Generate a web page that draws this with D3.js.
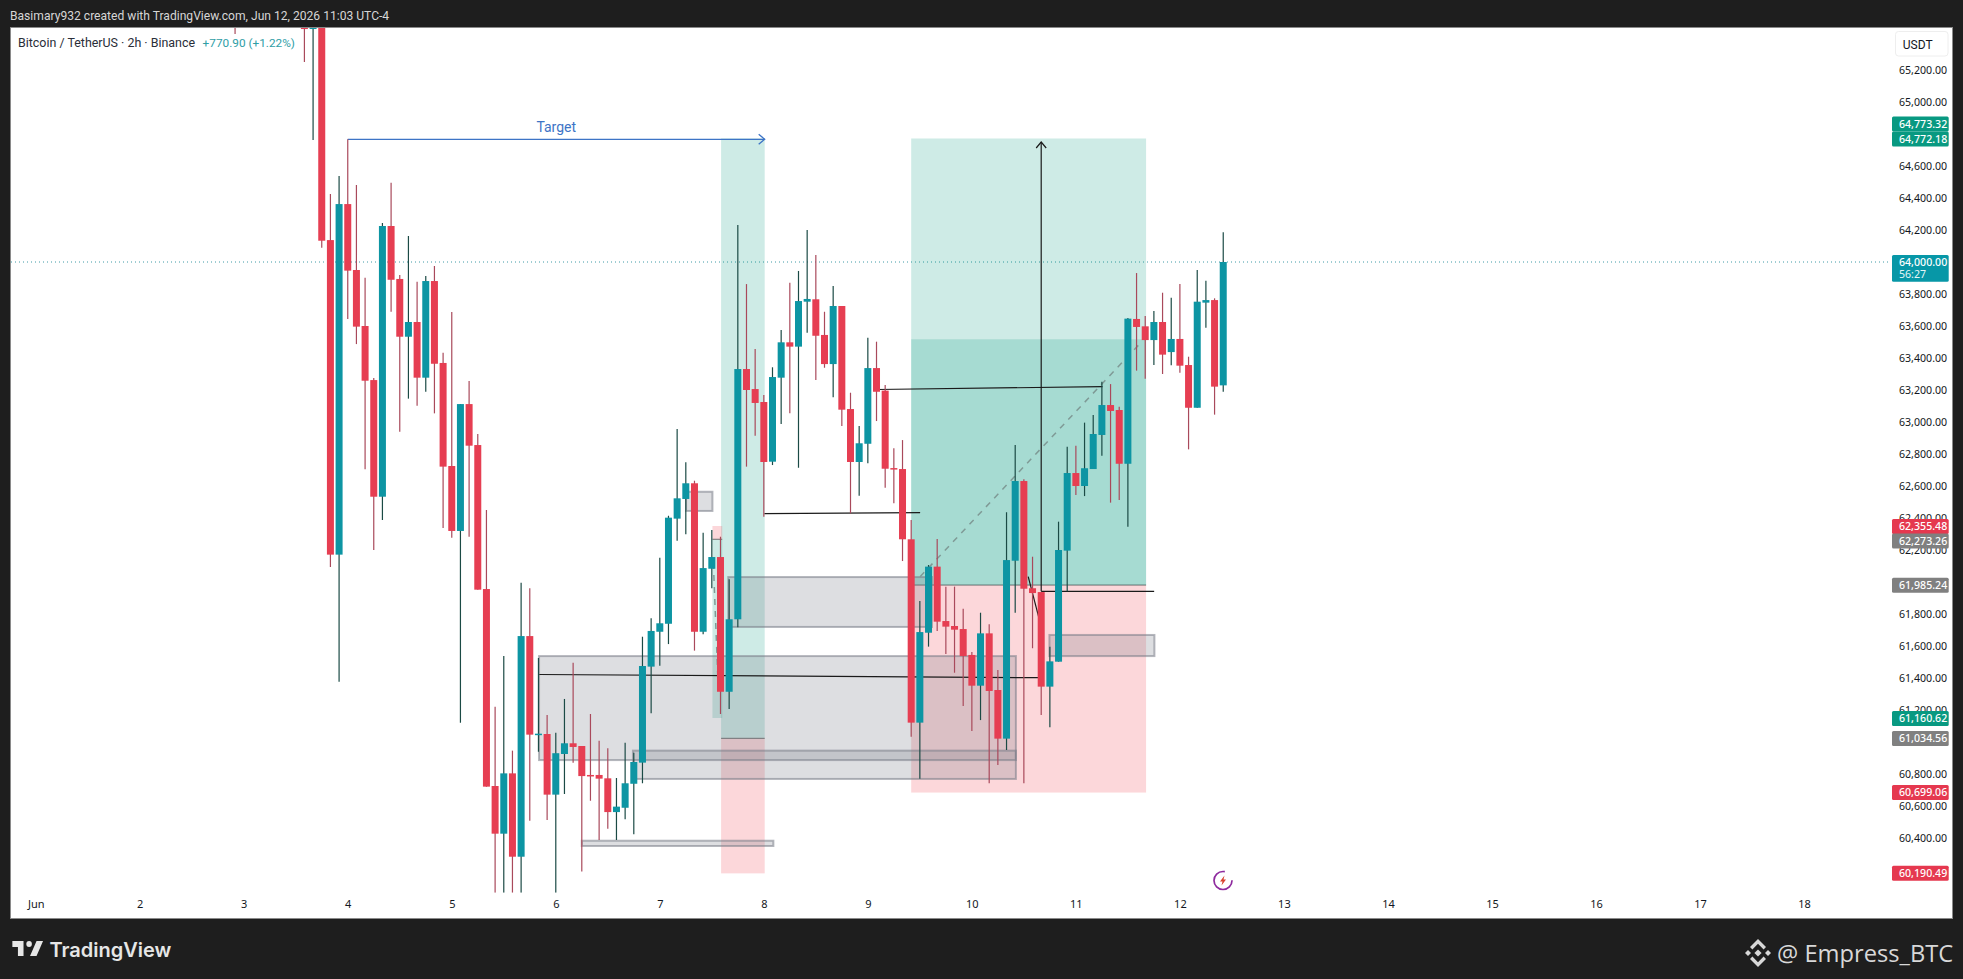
<!DOCTYPE html>
<html>
<head>
<meta charset="utf-8">
<script src="https://cdn.jsdelivr.net/npm/d3@7"></script>
<style>
	html, body { margin: 0; padding: 0; background: #1e1e1e; overflow: hidden; }
	svg { display: block; font-family: Roboto, sans-serif; }
	.px_axis text, .t_axis text { fill: #131722; }
	.px_axis .domain, .px_axis line, .t_axis .domain, .t_axis line { display: none; }
</style>
</head>
<body>
<svg id="chart" width="1963" height="979"></svg>
<script>
//2h bars, first one is bar 23 counted from Jun 1 00:00 (bars 23-33 run off the top of the pane)
const firstBar = 23;
const opens = [65950,65900,65880,65920,65860,65900,65870,65890,65700,65456,65590,
	64137,62171,64362,63950,63600,63262,62533,64225,63894,63533,63625,63277,63881,63369,62725,62319,63112,62856,61956,60725,
	60427,60804,60283,61662,61050,61050,60671,60925,60992,60975,60794,60794,60773,60562,60589,60739,60871,61471,61689,61739,
	62396,62519,62617,61689,62083,62156,61314,61767,63331,63206,63125,62752,63277,63498,63471,63752,63767,63544,63362,63725,
	63081,62750,62864,63337,63196,62712,62706,62267,61121,61683,62096,61756,61725,61706,61544,61352,61679,61325,61021,62133,
	62631,61961,61937,61346,61502,62196,62681,62600,62706,62919,63106,63075,62739,63644,63598,63512,63625,63437,63519,63356,
	63089,63746,63762,63229];
const highs = [66000,66000,65980,66000,65950,66000,65960,65980,65800,65700,65650,
	64425,64537,64767,64481,63902,63275,64244,64496,63919,64162,63877,63912,63975,63433,63687,63112,63256,62925,62450,61221,
	61537,60946,61996,61961,61525,61169,61058,61269,61496,60975,61175,61008,60961,60775,60996,60933,61658,61773,62152,62414,
	62956,62748,62633,62308,62325,62283,62017,64231,63862,63456,63169,63342,63575,63871,63944,64200,64044,63689,63850,63725,
	63183,62975,63527,63502,63231,62836,62887,62387,61881,62106,62269,61971,61971,61833,61562,61808,61736,61450,62436,62856,
	62642,62158,61937,61596,62377,62846,62852,62996,63044,63252,63237,63096,63650,63931,63662,63694,63808,63777,63862,63408,
	63950,63883,63773,64186];
const lows = [65425,65800,65780,65810,65760,65800,65770,65790,65250,64762,64089,
	62094,61377,63644,63487,62704,62200,62387,63689,62939,63146,63102,63189,63054,62337,62277,61121,62283,61952,60721,60058,
	60058,60058,60058,60508,60939,60512,60058,60675,60871,60190,60633,60387,60458,60387,60517,60423,60742,61179,61477,61612,
	62258,62298,61571,61673,61961,61175,61206,61717,62721,62914,62408,62731,62987,63054,62714,63558,63262,63339,63154,62975,
	62429,62539,62742,63006,62589,62492,62131,61033,60771,61596,61694,61550,61433,61225,61069,61137,60742,60856,60950,61808,
	60742,61586,61169,61092,61502,61942,62544,62537,62706,62789,62496,62512,62346,63321,63271,63356,63300,63354,63308,62829,
	63089,63589,63046,63189];
const closes = [65520,65850,65830,65860,65810,65850,65820,65840,65456,65600,64133,
	62171,64362,63946,63596,63258,62533,64225,63889,63533,63625,63277,63881,63364,62721,62319,63112,62852,61952,60721,60427,
	60804,60283,61662,61046,61052,60671,60930,60992,60969,60787,60787,60771,60562,60596,60742,60875,61475,61694,61742,62402,
	62523,62617,61689,62087,62156,61314,61767,63331,63200,63119,62750,63281,63498,63471,63756,63769,63539,63362,63725,63077,
	62750,62867,63337,63189,62708,62706,62267,61121,61687,62096,61752,61721,61702,61537,61352,61679,61319,61021,62137,62631,
	61958,61931,61346,61504,62200,62681,62600,62711,62925,63106,63069,62739,63646,63594,63512,63625,63421,63519,63352,63089,
	63752,63762,63221,64000];

const dayLabels = ["Jun","2","3","4","5","6","7","8","9","10","11","12","13","14","15","16","17","18"];
const priceTicks = [65200,65000,64600,64400,64200,63800,63600,63400,63200,63000,62800,62600,62400,62200,61800,61600,61400,61200,60800,60600,60400];

//drawings, bars on x and prices on y
const positionFrom = [79.07, 101, 78.07];
const positionTo = [84.1, 128.1, 79.2];
const positionTarget = [64773, 64772, 61150];
const positionEntry = [61023, 61981, 62267];
const positionStop = [60179, 60684, 62350];
const innerProfit = [101, 128.1, 63517, 61981];

const boxes = [
	[79.9, 103.4, 62031, 61719],
	[58.07, 113.08, 61537, 60887],
	[68.9, 113.08, 60946, 60769],
	[116.95, 129.06, 61669, 61537],
	[75.03, 78.07, 62564, 62444],
	[63, 85.1, 60383, 60350]
];
const blackLines = [
	[84.07, 62427, 102.03, 62433],
	[97.03, 63203, 123.07, 63221],
	[58.1, 61422, 115.68, 61402],
	[116, 61942, 129.03, 61942],
	[114.5, 62033, 115.7, 61783]
];
const dashedLines = [
	[102.03, 62033, 127.6, 63502],
	[78.18, 62119, 78.75, 61325]
];
const arrowUp = [116, 61942, 64750];
const targetArrow = [36, 84.1, 64767];

//right scale labels: text, where it sits, colour name
const labelTexts = ["64,773.32","64,772.18","62,355.48","62,273.26","61,985.24","61,160.62","61,034.56","60,699.06","60,190.49"];
const labelPrices = [64862,64769,62347,62256,61979,61147,61022,60684,60179];
const labelKinds = ["green","green","red","grey","grey","green","grey","red","red"];
const lastPrice = 64000;
const lastCountdown = "56:27";

const colors = {up: "#0d95a3", down: "#e63e52", upWick: "#1b4a45", downWick: "#a9495b",
	green: "#089981", red: "#e5384f", grey: "#808080", last: "#0797a7"};

const svg = d3.select("#chart");

// frame
svg.append("rect").attr("x", 0).attr("y", 0).attr("width", 1963).attr("height", 979).attr("fill", "#1e1e1e");
svg.append("rect")
	.attr("x", 10.5).attr("y", 27.5)
	.attr("width", 1942).attr("height", 891)
	.attr("fill", "#fff")
	.attr("stroke", "#8a8a8a");

svg.append("text")
	.attr("x", 10).attr("y", 19.5)
	.attr("font-size", 12.1)
	.attr("fill", "#d6d6d6")
	.text("Basimary932 created with TradingView.com, Jun 12, 2026 11:03 UTC-4");

const x = d3.scaleLinear().domain([0, 17 * 12]).range([35.7, 1804]);
const y = d3.scaleLinear().domain([60000, 65000]).range([902, 102]);

svg.append("defs").append("clipPath").attr("id", "pane")
	.append("rect").attr("x", 11).attr("y", 28).attr("width", 1879).attr("height", 864.7);

const pane = svg.append("g").attr("clip-path", "url(#pane)");

// last price line
pane.append("line")
	.attr("x1", 11).attr("x2", 1890)
	.attr("y1", y(lastPrice)).attr("y2", y(lastPrice))
	.attr("stroke", "#3f9aa6")
	.attr("stroke-width", 1)
	.attr("stroke-dasharray", "1 3");

// long and short position tools
positionFrom.forEach(function(from, i){
	pane.append("rect")
		.attr("x", x(from)).attr("width", x(positionTo[i]) - x(from))
		.attr("y", y(Math.max(positionTarget[i], positionEntry[i])))
		.attr("height", Math.abs(y(positionTarget[i]) - y(positionEntry[i])))
		.attr("fill", "rgba(8,153,129,0.2)");
	pane.append("rect")
		.attr("x", x(from)).attr("width", x(positionTo[i]) - x(from))
		.attr("y", y(Math.max(positionStop[i], positionEntry[i])))
		.attr("height", Math.abs(y(positionStop[i]) - y(positionEntry[i])))
		.attr("fill", "rgba(242,54,69,0.2)");
	pane.append("line")
		.attr("x1", x(from)).attr("x2", x(positionTo[i]))
		.attr("y1", y(positionEntry[i])).attr("y2", y(positionEntry[i]))
		.attr("stroke", "#6e6e6e");
});
pane.append("rect")
	.attr("x", x(innerProfit[0])).attr("width", x(innerProfit[1]) - x(innerProfit[0]))
	.attr("y", y(innerProfit[2])).attr("height", y(innerProfit[3]) - y(innerProfit[2]))
	.attr("fill", "rgba(8,153,129,0.2)");

// grey zones
pane.selectAll(".zone").data(boxes).join("rect")
	.attr("class", "zone")
	.attr("x", d => x(d[0]))
	.attr("width", d => x(d[1]) - x(d[0]))
	.attr("y", d => y(d[2]))
	.attr("height", d => y(d[3]) - y(d[2]))
	.attr("fill", "rgba(120,123,134,0.25)")
	.attr("stroke", "rgba(120,123,134,0.55)")
	.attr("stroke-width", 2);

pane.selectAll(".dash").data(dashedLines).join("line")
	.attr("class", "dash")
	.attr("x1", d => x(d[0])).attr("y1", d => y(d[1]))
	.attr("x2", d => x(d[2])).attr("y2", d => y(d[3]))
	.attr("stroke", "#7f9a96")
	.attr("stroke-width", 1.5)
	.attr("stroke-dasharray", "6 6");

pane.selectAll(".trend").data(blackLines).join("line")
	.attr("class", "trend")
	.attr("x1", d => x(d[0])).attr("y1", d => y(d[1]))
	.attr("x2", d => x(d[2])).attr("y2", d => y(d[3]))
	.attr("stroke", "#1a1a1a")
	.attr("stroke-width", 1.2);

// the tall arrow
const ax = x(arrowUp[0]), ay = y(arrowUp[2]);
pane.append("line")
	.attr("x1", ax).attr("x2", ax)
	.attr("y1", y(arrowUp[1])).attr("y2", ay)
	.attr("stroke", "#1a1a1a").attr("stroke-width", 1.2);
pane.append("path")
	.attr("d", "M" + (ax - 5) + " " + (ay + 6) + "L" + ax + " " + ay + "L" + (ax + 5) + " " + (ay + 6))
	.attr("fill", "none").attr("stroke", "#1a1a1a").attr("stroke-width", 1.2);

// target arrow
const tx0 = x(targetArrow[0]), tx1 = x(targetArrow[1]), ty = y(targetArrow[2]);
pane.append("line")
	.attr("x1", tx0).attr("x2", tx1)
	.attr("y1", ty).attr("y2", ty)
	.attr("stroke", "#3d74c6").attr("stroke-width", 1.3);
pane.append("path")
	.attr("d", "M" + (tx1 - 6) + " " + (ty - 5) + "L" + tx1 + " " + ty + "L" + (tx1 - 6) + " " + (ty + 5))
	.attr("fill", "none").attr("stroke", "#3d74c6").attr("stroke-width", 1.3);
pane.append("text")
	.attr("x", (tx0 + tx1) / 2).attr("y", 132)
	.attr("text-anchor", "middle")
	.attr("font-size", 14)
	.attr("fill", "#3d74c6")
	.text("Target");

// candles
const bars = opens.map(function(o, i){
	return {i: i + firstBar, o: o, h: highs[i], l: lows[i], c: closes[i]};
});
const candle = pane.selectAll(".candle").data(bars).join("g").attr("class", "candle");
candle.append("line")
	.attr("x1", d => x(d.i)).attr("x2", d => x(d.i))
	.attr("y1", d => y(d.h)).attr("y2", d => y(d.l))
	.attr("stroke", d => d.c >= d.o ? colors.upWick : colors.downWick)
	.attr("stroke-width", 1.2);
candle.append("rect")
	.attr("x", d => x(d.i) - 3.5)
	.attr("width", 7)
	.attr("y", d => y(Math.max(d.o, d.c)))
	.attr("height", d => Math.max(1.5, Math.abs(y(d.o) - y(d.c))))
	.attr("fill", d => d.c >= d.o ? colors.up : colors.down);

// title
const title = svg.append("text").attr("x", 18).attr("y", 46.5).attr("font-size", 12.45);
title.append("tspan").attr("fill", "#2a2e39").text("Bitcoin / TetherUS · 2h · Binance");
title.append("tspan").attr("fill", "#2f9ea6").attr("dx", 7.5).attr("font-size", 11.8).text("+770.90 (+1.22%)");

// axes
const dayAxis = d3.axisBottom(x)
	.tickValues(dayLabels.map((d, i) => i * 12))
	.tickFormat((d, i) => dayLabels[i])
	.tickSize(0);
svg.append("g").attr("class", "t_axis")
	.attr("transform", "translate(0,897)")
	.call(dayAxis)
	.selectAll("text").attr("font-size", 11).attr("font-family", "'Noto Sans', sans-serif");

const priceAxis = d3.axisRight(y)
	.tickValues(priceTicks)
	.tickFormat(d3.format(",.2f"))
	.tickSize(0)
	.tickPadding(0);
svg.append("g").attr("class", "px_axis")
	.attr("transform", "translate(1899,0)")
	.call(priceAxis)
	.selectAll("text").attr("font-size", 10.6).attr("font-family", "'Noto Sans', sans-serif");

// currency button
svg.append("rect")
	.attr("x", 1895.5).attr("y", 31.5).attr("width", 52.5).attr("height", 24.5).attr("rx", 3)
	.attr("fill", "#fff").attr("stroke", "#eeeeee");
svg.append("text")
	.attr("x", 1917.7).attr("y", 48.5)
	.attr("text-anchor", "middle")
	.attr("font-size", 12)
	.attr("fill", "#131722")
	.text("USDT");

// price labels on the scale
labelTexts.forEach(function(text, i){
	let cy = y(labelPrices[i]);
	svg.append("rect")
		.attr("x", 1892).attr("y", cy - 7.5)
		.attr("width", 56.7).attr("height", 15).attr("rx", 1.5)
		.attr("fill", colors[labelKinds[i]]);
	svg.append("text")
		.attr("x", 1899).attr("y", cy + 3.8)
		.attr("font-family", "'Noto Sans', sans-serif")
		.attr("font-size", 10.6)
		.attr("font-weight", 500)
		.attr("fill", "#fff")
		.text(text);
});

// last price label with countdown
const ly = y(lastPrice);
svg.append("rect")
	.attr("x", 1892).attr("y", ly - 7)
	.attr("width", 56.7).attr("height", 26.7).attr("rx", 1.5)
	.attr("fill", colors.last);
svg.append("text")
	.attr("x", 1899).attr("y", ly + 3.8)
	.attr("font-family", "'Noto Sans', sans-serif")
	.attr("font-size", 10.6).attr("font-weight", 500).attr("fill", "#fff")
	.text(d3.format(",.2f")(lastPrice));
svg.append("text")
	.attr("x", 1899).attr("y", ly + 16)
	.attr("font-family", "'Noto Sans', sans-serif")
	.attr("font-size", 10.6).attr("fill", "#e6f6f7")
	.text(lastCountdown);

// events icon
const icon = svg.append("g").attr("transform", "translate(1223,880.5)");
icon.append("circle").attr("r", 9)
	.attr("fill", "#fff").attr("stroke", "#8e2a9e").attr("stroke-width", 1.7)
	.attr("stroke-dasharray", "44 12");
icon.append("path")
	.attr("d", "M1.5 -5L-3 1H-0.5L-1.5 5L3 -1H0.5Z")
	.attr("fill", "#d9432f");

// footer logos
const tvLogo = svg.append("g").attr("transform", "translate(10.5,935) scale(0.93,1)");
tvLogo.append("path")
	.attr("d", "M14 6H2v6h6v9h6V6zm14 15h-7l7-15h7l-7 15zm-8-9a3 3 0 100-6 3 3 0 000 6z")
	.attr("fill", "#e6e6e6");
svg.append("text")
	.attr("x", 49.5).attr("y", 956.5)
	.attr("font-family", "Inter, sans-serif")
	.attr("font-size", 20)
	.attr("font-weight", 600)
	.attr("fill", "#e6e6e6")
	.text("TradingView");

const bnLogo = svg.append("g").attr("transform", "translate(1758,953)").attr("fill", "#d8d8d8");
bnLogo.append("path").attr("d", "M0 -3.6L3.6 0L0 3.6L-3.6 0Z");
bnLogo.append("path").attr("d", "M-10 -3L-7 0L-10 3L-13 0Z");
bnLogo.append("path").attr("d", "M10 -3L13 0L10 3L7 0Z");
bnLogo.append("path").attr("d", "M0 -14L8 -6L5.6 -3.6L0 -9.2L-5.6 -3.6L-8 -6Z");
bnLogo.append("path").attr("d", "M0 14L8 6L5.6 3.6L0 9.2L-5.6 3.6L-8 6Z");

svg.append("text")
	.attr("x", 1777).attr("y", 962)
	.attr("font-family", "'Open Sans', sans-serif")
	.attr("font-size", 23.7)
	.attr("fill", "#d8d8d8")
	.text("@ Empress_BTC");
</script>
</body>
</html>
